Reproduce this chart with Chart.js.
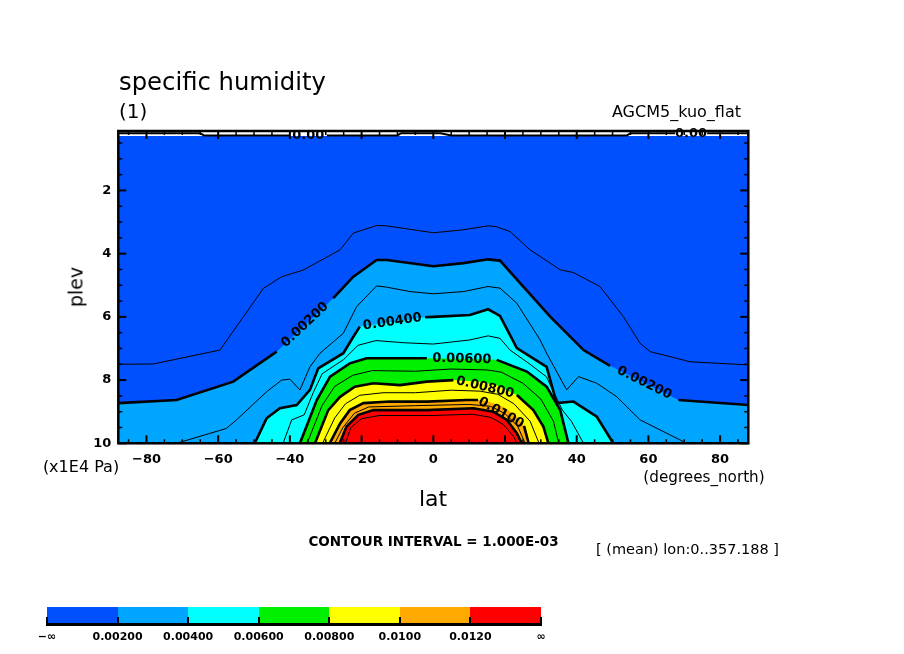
<!DOCTYPE html>
<html>
<head>
<meta charset="utf-8">
<script src="https://cdn.jsdelivr.net/npm/chart.js@4.4.0/dist/chart.umd.min.js"></script>
<style>
html,body{margin:0;padding:0;background:#fff;}
#wrap{position:relative;width:904px;height:654px;overflow:hidden;font-family:"DejaVu Sans",sans-serif;color:#000;background:#fff;}
#c{position:absolute;left:0;top:0;}
.t{position:absolute;white-space:nowrap;line-height:1;}
.cc{transform:translate(-50%,-50%);}
</style>
</head>
<body>
<div id="wrap">
<canvas id="c" width="904" height="654"></canvas>
<div class="t" style="left:119px;top:70px;font-size:24.3px;">specific humidity</div>
<div class="t" style="left:119px;top:101px;font-size:20px;">(1)</div>
<div class="t" style="right:163px;top:104px;font-size:16px;">AGCM5_kuo_flat</div>
<div class="t" style="left:76px;top:287px;font-size:19px;transform:translate(-50%,-50%) rotate(-90deg);">plev</div>
<div class="t cc" style="left:433px;top:499px;font-size:22px;">lat</div>
<div class="t cc" style="left:81px;top:467px;font-size:16px;">(x1E4 Pa)</div>
<div class="t cc" style="left:704px;top:478px;font-size:15.2px;">(degrees_north)</div>
<div class="t cc" style="left:433.5px;top:542px;font-size:13.5px;font-weight:bold;">CONTOUR INTERVAL = 1.000E-03</div>
<div class="t cc" style="left:687.5px;top:549px;font-size:14.5px;">[ (mean) lon:0..357.188 ]</div>
<div id="cbar"></div>
</div>
<script>
// ---------------- data ----------------
const latMin = -87.86, latMax = 87.86;
const plevMin = 0.12, plevMax = 10;
const xMajorTicks = [-80,-60,-40,-20,0,20,40,60,80];
const xMinorTicks = [-85,-75,-70,-65,-55,-50,-45,-35,-30,-25,-15,-10,-5,5,10,15,25,30,35,45,50,55,65,70,75,85];
const yMajorTicks = [2,4,6,8,10];
const yMinorTicks = [0.5,1,1.5,2.5,3,3.5,4.5,5,5.5,6.5,7,7.5,8.5,9,9.5];

// model top of shaded data
const bgLat = [-87.86, 87.86];
const bgPlev = [0.28, 0.28];

// zero contour near model top
const zeroLat  = [-87.86,-65,-64,-40,-29.7,-10,-9,2,5,54,55,67.4,76.4,87.86];
const zeroPlev = [0.19,0.19,0.26,0.26,0.26,0.26,0.19,0.19,0.26,0.26,0.19,0.19,0.19,0.19];

// contour lines of specific humidity (lat, plev x1E4 Pa)
const q001Lat  = [-87.86,-78.1,-59.5,-47.4,-42.3,-36.3,-26.0,-22.3,-15.8,-13.0,0,8.0,15.3,17.7,21.4,27.0,35.4,39.1,46.5,53.0,57.7,60.5,71.6,87.86];
const q001Plev = [7.50,7.49,7.05,5.10,4.73,4.52,3.88,3.35,3.11,3.12,3.34,3.25,3.12,3.15,3.30,3.88,4.51,4.60,5.04,5.99,6.84,7.10,7.42,7.52];

const q002Lat  = [-87.86,-71.6,-55.8,-43.7,-27.9,-22.3,-15.8,-13.0,0,8.4,15.3,18.6,25.1,32.6,41.9,49.3,68.4,87.86];
const q002Plev = [8.73,8.63,8.05,7.10,5.41,4.73,4.20,4.20,4.40,4.30,4.18,4.22,5.04,5.99,7.05,7.55,8.63,8.79];

const q003Lat  = [-71.6,-57.7,-54.9,-46.5,-42.3,-40.0,-37.2,-34.4,-31.6,-25.1,-21.4,-15.8,-13.0,-6.5,0,8.4,15.3,18.6,23.3,29.8,31.6,37.2,40.5,45.6,51.2,57.7,70.7];
const q003Plev = [10,9.53,9.26,8.37,8.00,7.97,8.31,7.58,7.15,6.52,5.68,5.02,5.06,5.20,5.27,5.20,5.04,5.09,5.57,6.73,7.15,8.31,7.89,8.10,8.53,9.26,10];

const q004Lat  = [-49.8,-46.5,-42.8,-38.1,-34.4,-32.1,-25.1,-22.3,-20.5,-2.3,0,10.2,15.3,18.6,23.3,31.6,34.4,39.1,45.6,50.2];
const q004Plev = [10,9.21,8.89,8.79,8.31,7.63,7.15,6.63,6.31,6.01,6.00,5.94,5.76,5.97,6.99,7.58,8.73,8.68,9.16,10];

const q005Lat  = [-41.9,-39.5,-36.0,-33.5,-31.0,-25.0,-21.0,-16.0,-8.0,0,10.2,15.3,18.6,21.4,27.0,31.6,33.0,36.0,38.5,41.9];
const q005Plev = [10,9.26,9.10,8.40,7.80,7.35,6.90,6.75,6.82,6.86,6.73,6.60,6.68,7.05,7.50,7.90,8.25,8.95,9.30,10];

const q006Lat  = [-37.2,-32.5,-28.8,-23.3,-18.6,-1.8,17.7,26.1,31.6,35.4,37.7];
const q006Plev = [10,8.63,7.89,7.47,7.31,7.31,7.36,7.73,8.21,8.95,10];

const q007Lat  = [-35.2,-31.0,-27.5,-22.5,-17.0,-5.0,5.0,15.0,19.0,25.0,30.0,33.5,35.0];
const q007Plev = [10,8.80,8.20,7.85,7.70,7.72,7.65,7.68,7.75,8.10,8.60,9.30,10];

const q008Lat  = [-33.0,-29.3,-26.0,-21.9,-16.7,-9.3,-1.8,5.6,13.0,17.7,23.3,27.9,30.7,32.1];
const q008Plev = [10,8.95,8.53,8.21,8.10,8.16,8.05,8.00,8.05,8.16,8.47,8.95,9.47,10];

const q009Lat  = [-30.9,-27.5,-24.5,-20.5,-14.0,-5.0,5.0,13.0,18.0,22.5,27.0,29.5];
const q009Plev = [10,9.20,8.75,8.48,8.40,8.40,8.32,8.35,8.45,8.75,9.30,10];

const q010Lat  = [-28.9,-26.0,-23.3,-19.5,-12.1,-1.8,9.3,12.5,14.9,19.5,23.3,25.3,26.6];
const q010Plev = [10,9.37,8.95,8.73,8.68,8.68,8.63,8.63,8.66,8.84,9.15,9.45,10];

const q011Lat  = [-27.5,-25.2,-22.0,-18.0,-5.0,10.0,16.0,20.0,23.5,25.6];
const q011Plev = [10,9.50,9.05,8.85,8.81,8.77,8.83,9.06,9.45,10];

const q012Lat  = [-26.1,-24.2,-20.9,-16.7,-1.8,11.2,16.7,20.5,23.3,24.7];
const q012Plev = [10,9.47,9.10,8.95,8.95,8.89,9.00,9.26,9.68,10];

const q013Lat  = [-24.5,-23.0,-20.0,-15.0,0,11.0,16.0,19.5,22.5,23.3];
const q013Plev = [10,9.50,9.22,9.12,9.12,9.08,9.18,9.40,9.80,10];

// colour bar
const cbLabels = ['\u2212\u221e','0.00200','0.00400','0.00600','0.00800','0.0100','0.0120','\u221e'];
const palette = ['#0050ff','#00a5ff','#00ffff','#00f000','#ffff00','#ffaa00','#ff0000'];

// ---------------- build ----------------
function pts(lat, plev){ return lat.map((x,i)=>({x:x, y:plev[i]})); }

const fills = [
  [bgLat, bgPlev, 0],
  [q002Lat, q002Plev, 1],
  [q004Lat, q004Plev, 2],
  [q006Lat, q006Plev, 3],
  [q008Lat, q008Plev, 4],
  [q010Lat, q010Plev, 5],
  [q012Lat, q012Plev, 6]
];
// [lat, plev, width, gaps]
const lines = [
  [zeroLat, zeroPlev, 2, [[3,4],[11,12]]],
  [q001Lat, q001Plev, 1, []],
  [q002Lat, q002Plev, 2.6, [[3,4],[15,16]]],
  [q003Lat, q003Plev, 1, []],
  [q004Lat, q004Plev, 2.6, [[8,9]]],
  [q005Lat, q005Plev, 1, []],
  [q006Lat, q006Plev, 2.6, [[5,6]]],
  [q007Lat, q007Plev, 1, []],
  [q008Lat, q008Plev, 2.6, [[7,10]]],
  [q009Lat, q009Plev, 1, []],
  [q010Lat, q010Plev, 2.6, [[7,11]]],
  [q011Lat, q011Plev, 1, []],
  [q012Lat, q012Plev, 2.6, []],
  [q013Lat, q013Plev, 1, []]
];
const contourLabels = [
  [q002Lat, q002Plev, 3, 4, '0.00200'],
  [q002Lat, q002Plev, 15, 16, '0.00200'],
  [q004Lat, q004Plev, 8, 9, '0.00400'],
  [q006Lat, q006Plev, 5, 6, '0.00600'],
  [q008Lat, q008Plev, 7, 10, '0.00800'],
  [q010Lat, q010Plev, 7, 11, '0.0100'],
  [zeroLat, zeroPlev, 3, 4, '0.00'],
  [zeroLat, zeroPlev, 11, 12, '0.00']
];

const datasets = [];
fills.forEach((f,k)=>{
  datasets.push({
    data: pts(f[0], f[1]),
    borderColor: 'rgba(0,0,0,0)',
    borderWidth: 0,
    backgroundColor: palette[f[2]],
    pointRadius: 0,
    tension: 0,
    fill: {value: plevMax},
    order: 100 - k
  });
});
lines.forEach((l)=>{
  const gaps = l[3];
  datasets.push({
    data: pts(l[0], l[1]),
    borderColor: '#000',
    borderWidth: l[2],
    pointRadius: 0,
    tension: 0,
    fill: false,
    order: 1,
    segment: {
      borderColor: (ctx)=>{
        const i = ctx.p0DataIndex;
        for (const g of gaps) if (i >= g[0] && i < g[1]) return 'rgba(0,0,0,0)';
        return '#000';
      }
    }
  });
});

const decor = {
  id: 'decor',
  afterDatasetsDraw(chart){
    const ctx = chart.ctx, a = chart.chartArea, xs = chart.scales.x, ys = chart.scales.y;
    ctx.save();
    // contour labels
    ctx.fillStyle = '#000';
    ctx.font = 'bold 13px "DejaVu Sans"';
    ctx.textAlign = 'center';
    ctx.textBaseline = 'middle';
    contourLabels.forEach(c=>{
      const x0 = xs.getPixelForValue(c[0][c[2]]), y0 = ys.getPixelForValue(c[1][c[2]]);
      const x1 = xs.getPixelForValue(c[0][c[3]]), y1 = ys.getPixelForValue(c[1][c[3]]);
      let ang = Math.atan2(y1-y0, x1-x0);
      if (ang > Math.PI/2) ang -= Math.PI;
      if (ang < -Math.PI/2) ang += Math.PI;
      ctx.save();
      ctx.translate((x0+x1)/2, (y0+y1)/2);
      ctx.rotate(ang);
      ctx.fillText(c[4], 0, 0);
      ctx.restore();
    });
    // ticks (inward, all four sides)
    ctx.strokeStyle = '#000';
    function seg(x0,y0,x1,y1,w){ ctx.lineWidth=w; ctx.beginPath(); ctx.moveTo(x0,y0); ctx.lineTo(x1,y1); ctx.stroke(); }
    function xt(v,len,w){ const p = xs.getPixelForValue(v); seg(p,a.bottom,p,a.bottom-len,w); seg(p,a.top,p,a.top+len,w); }
    function yt(v,len,w){ const p = ys.getPixelForValue(v); seg(a.left,p,a.left+len,p,w); seg(a.right,p,a.right-len,p,w); }
    xMajorTicks.forEach(v=>xt(v,8,2));
    xMinorTicks.forEach(v=>xt(v,4,1.5));
    yMajorTicks.forEach(v=>yt(v,8,2));
    yMinorTicks.forEach(v=>yt(v,4,1.5));
    // frame
    ctx.lineWidth = 2.5;
    ctx.strokeRect(a.left, a.top, a.right-a.left, a.bottom-a.top);
    ctx.restore();
  }
};

new Chart(document.getElementById('c'), {
  type: 'line',
  data: { datasets: datasets },
  options: {
    responsive: false,
    animation: false,
    events: [],
    layout: { padding: { left: 0, top: 131, right: 155.7, bottom: 170.7 } },
    plugins: { legend: {display:false}, tooltip: {enabled:false}, title: {display:false} },
    scales: {
      x: {
        type: 'linear', min: latMin, max: latMax,
        grid: { display:false, drawTicks:false },
        border: { display:false },
        afterFit: (s)=>{ s.height = 40; },
        ticks: { stepSize: 20, includeBounds: false, autoSkip: false, maxRotation: 0, padding: 9,
                 color: '#000', font: { family: 'DejaVu Sans', size: 13, weight: 'bold' },
                 callback: (v)=> v < 0 ? '\u2212' + Math.abs(v) : String(v) }
      },
      y: {
        type: 'linear', reverse: true, min: plevMin, max: plevMax,
        grid: { display:false, drawTicks:false },
        border: { display:false },
        afterFit: (s)=>{ s.width = 118.3; },
        ticks: { stepSize: 2, includeBounds: false, autoSkip: false, padding: 7,
                 color: '#000', font: { family: 'DejaVu Sans', size: 13, weight: 'bold' } }
      }
    }
  },
  plugins: [decor]
});

// colour bar (legend)
(function(){
  const cb = document.getElementById('cbar');
  const left = 47, right = 541, top = 607, h = 17;
  const w = (right-left)/palette.length;
  palette.forEach((c,i)=>{
    const d = document.createElement('div');
    d.style.cssText = 'position:absolute;left:'+(left+i*w)+'px;top:'+top+'px;width:'+(w+0.5)+'px;height:'+h+'px;background:'+c+';';
    cb.appendChild(d);
  });
  const base = document.createElement('div');
  base.style.cssText = 'position:absolute;left:'+left+'px;top:'+(top+h-1)+'px;width:'+(right-left)+'px;height:2.5px;background:#000;';
  cb.appendChild(base);
  cbLabels.forEach((t,i)=>{
    const x = left + i*w;
    const tk = document.createElement('div');
    tk.style.cssText = 'position:absolute;left:'+(x-1)+'px;top:'+(top+h-7)+'px;width:2px;height:9px;background:#000;';
    cb.appendChild(tk);
    const lb = document.createElement('div');
    lb.className = 't cc';
    lb.style.cssText = 'left:'+x+'px;top:636px;font-size:11px;font-weight:bold;';
    lb.textContent = t;
    cb.appendChild(lb);
  });
})();
</script>
</body>
</html>
